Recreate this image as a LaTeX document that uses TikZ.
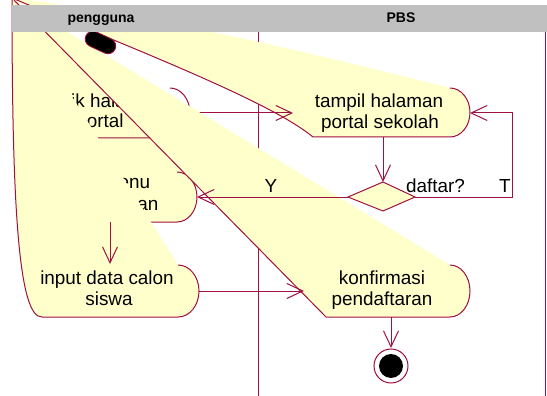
\documentclass[tikz,border=0pt]{standalone}
\usepackage{fontspec}
\setmainfont{Liberation Sans}
\usetikzlibrary{arrows.meta}
\definecolor{fillY}{RGB}{255,255,204}
\definecolor{lineR}{RGB}{160,16,64}
\definecolor{hdr}{RGB}{192,192,192}
\begin{document}
\begin{tikzpicture}[x=1pt,y=-1pt,
  edge/.style={draw=lineR,line width=1pt},
  conn/.style={draw=lineR,line width=1pt,-{Straight Barb[length=16pt,width=15pt]}},
  lbl/.style={inner sep=0pt,anchor=base,font=\fontsize{18.9}{20}\selectfont},
  hlbl/.style={inner sep=0pt,anchor=base,font=\bfseries\fontsize{14}{16}\selectfont}]
\useasboundingbox (0,0) rectangle (547,396);
\clip (0,0) rectangle (547,396);
\fill[white] (0,0) rectangle (547,396);
\coordinate (P) at (12,-2);
\coordinate (Q) at (10,-2);
% swimlane lines
\draw[lineR,line width=1pt] (258,32) -- (258,396);
\draw[lineR,line width=1pt] (545.5,32) -- (545.5,396);
% tampil fill
\fill[fillY] (313,137) .. controls (280,110) and (200,75) .. (60,18) -- (P)
  .. controls (150,15) and (300,50) .. (450,88)
  .. controls (461,88) and (470,99) .. (470,112.5)
  .. controls (470,126) and (461,137) .. (450,137) -- cycle;
% pilih fill
\fill[fillY] (P) -- (186,172) -- (177,172)
  .. controls (188,172) and (197,183.2) .. (197,197)
  .. controls (197,210.8) and (188,222) .. (177,222) -- (40,222) -- cycle;
% klik node (text and strokes)
\node[lbl] (klik1) at (110,107) {klik halaman};
\node[lbl] (klik2) at (100,128) {portal};
\draw[edge] (170,88) .. controls (181,88) and (190,99.2) .. (190,113)
  .. controls (190,126.8) and (181,138) .. (170,138) -- (50,138);
\coordinate (klikR) at (190,113);
\coordinate (tampilL) at (293,113);
\draw[conn] (klikR) -- (tampilL);
% pilih node (text and strokes)
\node[lbl] (pilih1) at (107,188) {pilih menu};
\node[lbl] (pilih2) at (108,210) {pendaftaran};
\draw[edge] (177,172) .. controls (188,172) and (197,183.2) .. (197,197)
  .. controls (197,210.8) and (188,222) .. (177,222) -- (50,222);
% konfirmasi fill
\fill[fillY] (P) -- (450,265)
  .. controls (461,265) and (470,276.6) .. (470,291)
  .. controls (470,305.4) and (461,317) .. (450,317) -- (326,317) -- cycle;
% input fill
\fill[fillY] (P) .. controls (12,200) and (18,318) .. (42,317) -- (178,317)
  .. controls (189.6,317) and (199,305.4) .. (199,291)
  .. controls (199,276.6) and (189.6,265) .. (178,265) -- (Q) -- cycle;
% outlines
\draw[edge] (P) .. controls (12,200) and (18,318) .. (42,317) -- (178,317)
  .. controls (189.6,317) and (199,305.4) .. (199,291)
  .. controls (199,276.6) and (189.6,265) .. (178,265);
\draw[edge] (450,265) .. controls (461,265) and (470,276.6) .. (470,291)
  .. controls (470,305.4) and (461,317) .. (450,317) -- (326,317) -- (P);
\draw[edge] (450,88) .. controls (461,88) and (470,99) .. (470,112.5)
  .. controls (470,126) and (461,137) .. (450,137) -- (313,137)
  .. controls (280,110) and (200,75) .. (60,18) -- (P);
% texts
\node[lbl] (tampil1) at (379,107) {tampil halaman};
\node[lbl] (tampil2) at (380,128.5) {portal sekolah};
\node[lbl] (konf1) at (382,284) {konfirmasi};
\node[lbl] (konf2) at (382,305) {pendaftaran};
\node[lbl] (input1) at (107,284) {input data calon};
\node[lbl] (input2) at (109,305) {siswa};
% decision
\coordinate (dL) at (348,197);
\coordinate (dT) at (383,182);
\coordinate (dR) at (415,197);
\coordinate (dB) at (383,211);
\draw[edge,fill=fillY] (dL) -- (dT) -- (dR) -- (dB) -- cycle;
\node[lbl] (daftar) at (435.5,193) {daftar?};
\node[lbl] (lblT) at (505,193) {T};
\node[lbl] (lblY) at (271,193) {Y};
% connectors
\coordinate (tampilB) at (383,137);
\coordinate (tampilR) at (470,113);
\coordinate (loopA) at (512,197);
\coordinate (loopB) at (512,113);
\coordinate (pilihR) at (197,197);
\coordinate (pilihB) at (110,222);
\coordinate (inputT) at (110,264);
\coordinate (inputR) at (199,291);
\coordinate (konfL) at (304,291);
\coordinate (konfB) at (391,317);
\coordinate (endT) at (391,348);
\draw[conn] (tampilB) -- (dT);
\draw[conn] (dR) -- (loopA) -- (loopB) -- (tampilR);
\draw[conn] (dL) -- (pilihR);
\draw[conn] (pilihB) -- (inputT);
\draw[conn] (inputR) -- (konfL);
\draw[conn] (konfB) -- (endT);
% end node
\node[circle,draw=lineR,line width=1pt,fill=white,minimum size=34pt,inner sep=0pt] (endO) at (391,366) {};
\node[circle,fill=black,minimum size=24pt,inner sep=0pt] (endI) at (endO) {};
% start node (distorted)
\coordinate (s1) at (93,39);
\coordinate (s2) at (108,46);
\draw[lineR,line width=16.5pt,line cap=round] (s1) -- (s2);
\draw[black,line width=14.5pt,line cap=round] (s1) -- (s2);
% header
\fill[hdr] (12,5) rectangle (547,32);
\node[hlbl] (hUser) at (101,23) {pengguna};
\node[hlbl] (hPBS) at (401,23) {PBS};
\end{tikzpicture}
\end{document}
